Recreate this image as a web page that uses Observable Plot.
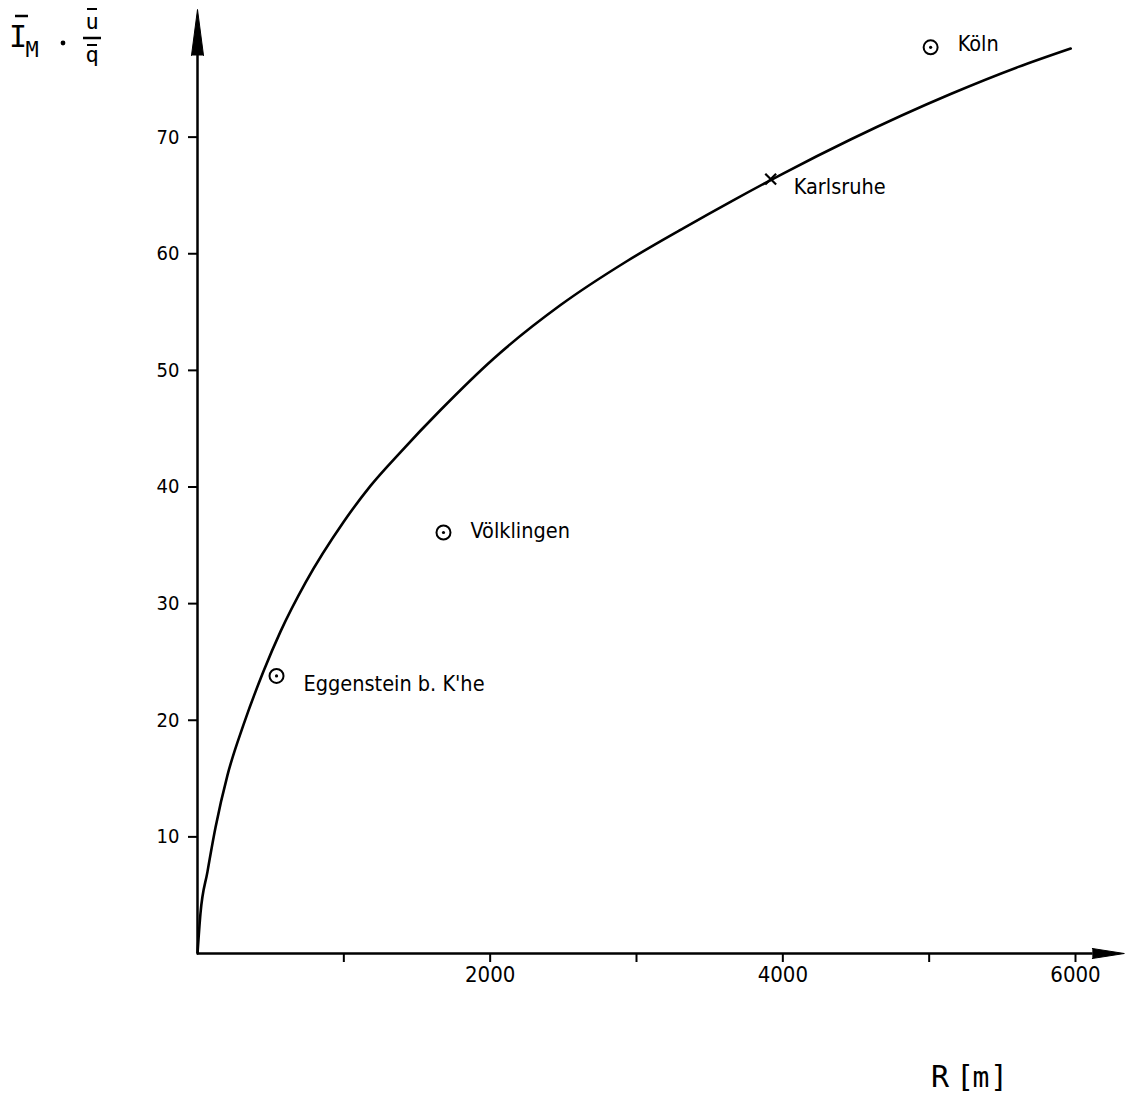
<!DOCTYPE html>
<html><head><meta charset="utf-8">
<script src="https://cdn.jsdelivr.net/npm/d3@7"></script>
<script src="https://cdn.jsdelivr.net/npm/@observablehq/plot@0.6"></script>
<style>body{margin:0;background:#fff;font-family:"DejaVu Sans Condensed","DejaVu Sans",sans-serif}</style>
</head><body><div id="chart"></div>
<script>
// Curve: R [m] vs I_M * u/q
const curveR = [0, 20, 68, 123, 205, 314, 451, 567, 738, 998, 1182, 1388, 1661, 2023, 2481, 2939, 3322, 3664, 4005, 4463, 5147, 5605, 5967];
const curveV = [0, 3.4, 7.0, 10.8, 15.3, 19.6, 24.2, 27.6, 31.8, 37.0, 40.1, 43.0, 46.6, 51.0, 55.6, 59.4, 62.2, 64.6, 66.9, 69.8, 73.7, 76.0, 77.6];
// Measured sites
const siteNames = ["Eggenstein b. K'he", "Völklingen", "Karlsruhe", "Köln"];
const siteR = [540, 1681, 3917, 5010];
const siteV = [23.8, 36.1, 66.4, 77.7];
const siteKind = ["circle", "circle", "cross", "circle"];
// Ticks
const xTicks = [1000, 2000, 3000, 4000, 5000, 6000];
const xTickLabels = [2000, 4000, 6000];
const yTicks = [10, 20, 30, 40, 50, 60, 70];
// axis extents (data units)
const xAxisEnd = 6120, xArrowBase = 6115;
const yAxisEnd = 77.2, yArrowBase = 77.0;

const curve = curveR.map((r, i) => ({r, v: curveV[i]}));
const sites = siteNames.map((name, i) => ({name, r: siteR[i], v: siteV[i], kind: siteKind[i]}));
const circles = sites.filter(d => d.kind === "circle");
const crosses = sites.filter(d => d.kind === "cross");

const labelOffset = {"Eggenstein b. K'he": [27, 8], "Völklingen": [27, -1], "Karlsruhe": [23, 8], "Köln": [27, -3]};

const font = "DejaVu Sans Condensed";
const plot = Plot.plot({
  width: 1129, height: 1105,
  marginLeft: 197, marginRight: 54, marginTop: 20, marginBottom: 152,
  style: {fontFamily: font, background: "#fff", color: "#000", overflow: "visible"},
  x: {domain: [0, 6000], axis: null},
  y: {domain: [0, 80], axis: null},
  marks: [
    Plot.axisX({ticks: xTicks, tickSize: 9, tickPadding: 4, strokeWidth: 2, fontSize: 22,
      tickFormat: d => xTickLabels.includes(d) ? String(d) : "", label: null}),
    Plot.axisY({ticks: yTicks, tickSize: 9, tickPadding: 9, strokeWidth: 2, fontSize: 20, label: null}),
    Plot.ruleY([0], {x1: 0, x2: xAxisEnd, strokeWidth: 2.5}),
    Plot.ruleX([0], {y1: 0, y2: yAxisEnd, strokeWidth: 2.5}),
    Plot.vector([{x: 0, y: yArrowBase}], {x: "x", y: "y", length: 46, rotate: 0, shape: "spike", r: 6, anchor: "start", fill: "black", stroke: "black", strokeWidth: 1}),
    Plot.vector([{x: xArrowBase, y: 0}], {x: "x", y: "y", length: 32, rotate: 90, shape: "spike", r: 5, anchor: "start", fill: "black", stroke: "black", strokeWidth: 1}),
    Plot.line(curve, {x: "r", y: "v", curve: "monotone-x", strokeWidth: 2.6}),
    Plot.dot(circles, {x: "r", y: "v", r: 7, stroke: "black", strokeWidth: 2, fill: "white"}),
    Plot.dot(circles, {x: "r", y: "v", r: 1.6, fill: "black", stroke: null}),
    Plot.dot(crosses, {x: "r", y: "v", symbol: "times", r: 5, stroke: "black", strokeWidth: 2.2}),
    ...sites.map(s => Plot.text([s], {x: "r", y: "v", text: "name", dx: labelOffset[s.name][0], dy: labelOffset[s.name][1],
      textAnchor: "start", fontSize: 21.5, fill: "black"}))
  ]
});
document.getElementById("chart").appendChild(plot);

// Axis titles
const svg = d3.select(plot);
const mono = "DejaVu Sans Mono";
const g = svg.append("g").attr("font-family", mono).attr("fill", "black");
const tI = g.append("text").attr("x", 18).attr("y", 47).attr("font-size", 30);
tI.append("tspan").text("I");
tI.append("tspan").attr("x", 32).attr("y", 57).attr("font-size", 22).text("M");
g.append("line").attr("x1", 15).attr("x2", 28).attr("y1", 16).attr("y2", 16).attr("stroke", "black").attr("stroke-width", 2.5);
g.append("circle").attr("cx", 63).attr("cy", 43).attr("r", 2.4);
g.append("text").attr("x", 92).attr("y", 29).attr("font-size", 22).attr("text-anchor", "middle").text("u");
g.append("line").attr("x1", 87).attr("x2", 97).attr("y1", 9).attr("y2", 9).attr("stroke", "black").attr("stroke-width", 2);
g.append("line").attr("x1", 83).attr("x2", 101).attr("y1", 38).attr("y2", 38).attr("stroke", "black").attr("stroke-width", 2.5);
g.append("line").attr("x1", 87).attr("x2", 97).attr("y1", 45).attr("y2", 45).attr("stroke", "black").attr("stroke-width", 2);
g.append("text").attr("x", 92).attr("y", 62).attr("font-size", 22).attr("text-anchor", "middle").text("q");
const tR = g.append("text").attr("y", 1087).attr("font-size", 30);
tR.append("tspan").attr("x", 940).text("R");
tR.append("tspan").attr("x", 965).text("[");
tR.append("tspan").attr("x", 981).attr("font-size", 28).text("m");
tR.append("tspan").attr("x", 999).text("]");
</script>
</body></html>
